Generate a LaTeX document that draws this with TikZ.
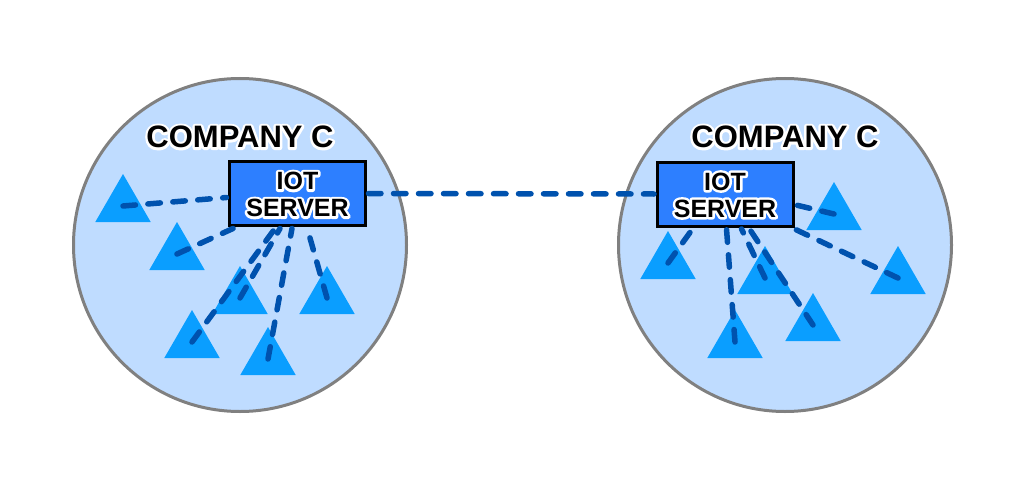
\documentclass[tikz,border=0pt]{standalone}
\usepackage{fontspec}
\setmainfont{Liberation Sans}
\usetikzlibrary{shapes.geometric,calc}
\definecolor{circfill}{RGB}{191,220,255}
\definecolor{circline}{RGB}{128,128,128}
\definecolor{trifill}{RGB}{10,158,255}
\definecolor{boxfill}{RGB}{45,127,255}
\definecolor{linkblue}{RGB}{0,82,174}
\tikzset{
  company/.style={circle,draw=circline,line width=3pt,fill=circfill,minimum size=333pt,inner sep=0pt},
  device/.style={regular polygon,regular polygon sides=3,fill=trifill,draw=none,minimum size=64pt,inner sep=0pt},
  server/.style={rectangle,draw=black,line width=3pt,fill=boxfill,minimum width=136pt,minimum height=64pt,inner sep=0pt},
  link/.style={draw=linkblue,line width=5.5pt,line cap=round,dash pattern=on 12.5pt off 12.5pt},
  lbl/.style={font=\bfseries\fontsize{31}{33}\selectfont,inner sep=0pt},
  srvlbl/.style={font=\bfseries\fontsize{25}{27}\selectfont,align=center,inner sep=0pt},
}
\newcommand\stk[2]{\special{pdf:literal direct q 1 Tr #1 w 1 j 1 J 1 1 1 RG}#2\special{pdf:literal direct Q}}
\begin{document}
\begin{tikzpicture}[x=1pt,y=-1pt]
\useasboundingbox (0,0) rectangle (1025,492);
% companies
\node[company] (cL) at (240,245) {};
\node[company] (cR) at (785,245) {};
% devices left
\node[device] (t1) at (123,206) {};
\node[device] (t2) at (177,254) {};
\node[device] (t3) at (240,298) {};
\node[device] (t4) at (327,298) {};
\node[device] (t5) at (192,342) {};
\node[device] (t6) at (268,359) {};
% devices right
\node[device] (r1) at (668,263) {};
\node[device] (r2) at (834,214) {};
\node[device] (r3) at (765,278) {};
\node[device] (r4) at (898,278) {};
\node[device] (r5) at (813,325) {};
\node[device] (r6) at (735,342) {};
% servers
\node[server] (sL) at (297.5,193.5) {};
\node[server] (sR) at (725,194) {};
% links left
\draw[link] (t1.center) -- ($(sL.west)+(-1.5,4)$);
\draw[link] (t2.center) -- ($(sL.south west)+(5,1.5)$);
\draw[link] (t5.center) -- ($(sL.south west)+(47,1.5)$);
\draw[link] (t3.center) -- ($(sL.south west)+(52,1.5)$);
\draw[link] (t6.center) -- ($(sL.south west)+(64,1.5)$);
\draw[link] (t4.center) -- ($(sL.south west)+(80,4)$);
% links right
\draw[link] (r1.center) -- ($(sR.south west)+(37,1.5)$);
\draw[link] (r2.center) -- ($(sR.east)+(1.5,11)$);
\draw[link] (r4.center) -- ($(sR.south east)+(0,1.5)$);
\draw[link] (r6.center) -- ($(sR.south west)+(71,1.5)$);
\draw[link] (r3.center) -- ($(sR.south west)+(86,1.5)$);
\draw[link] (r5.center) -- ($(sR.south west)+(94,1.5)$);
% server link
\draw[link] ($(sL.east)+(1.5,0)$) -- ($(sR.west)+(-1.5,0)$);
% labels (white outline copy, then black text)
\node[lbl] (labLg) at (240,137) {\stk{5}{COMPANY C}};
\node[lbl] (labL) at (240,137) {COMPANY C};
\node[lbl] (labRg) at (785,137) {\stk{5}{COMPANY C}};
\node[lbl] (labR) at (785,137) {COMPANY C};
\node[srvlbl] (sLtg) at (297.5,194.5) {\stk{5}{IOT}\\\stk{5}{SERVER}};
\node[srvlbl] (sLt) at (297.5,194.5) {IOT\\SERVER};
\node[srvlbl] (sRtg) at (725,195) {\stk{5}{IOT}\\\stk{5}{SERVER}};
\node[srvlbl] (sRt) at (725,195) {IOT\\SERVER};
\end{tikzpicture}
\end{document}
